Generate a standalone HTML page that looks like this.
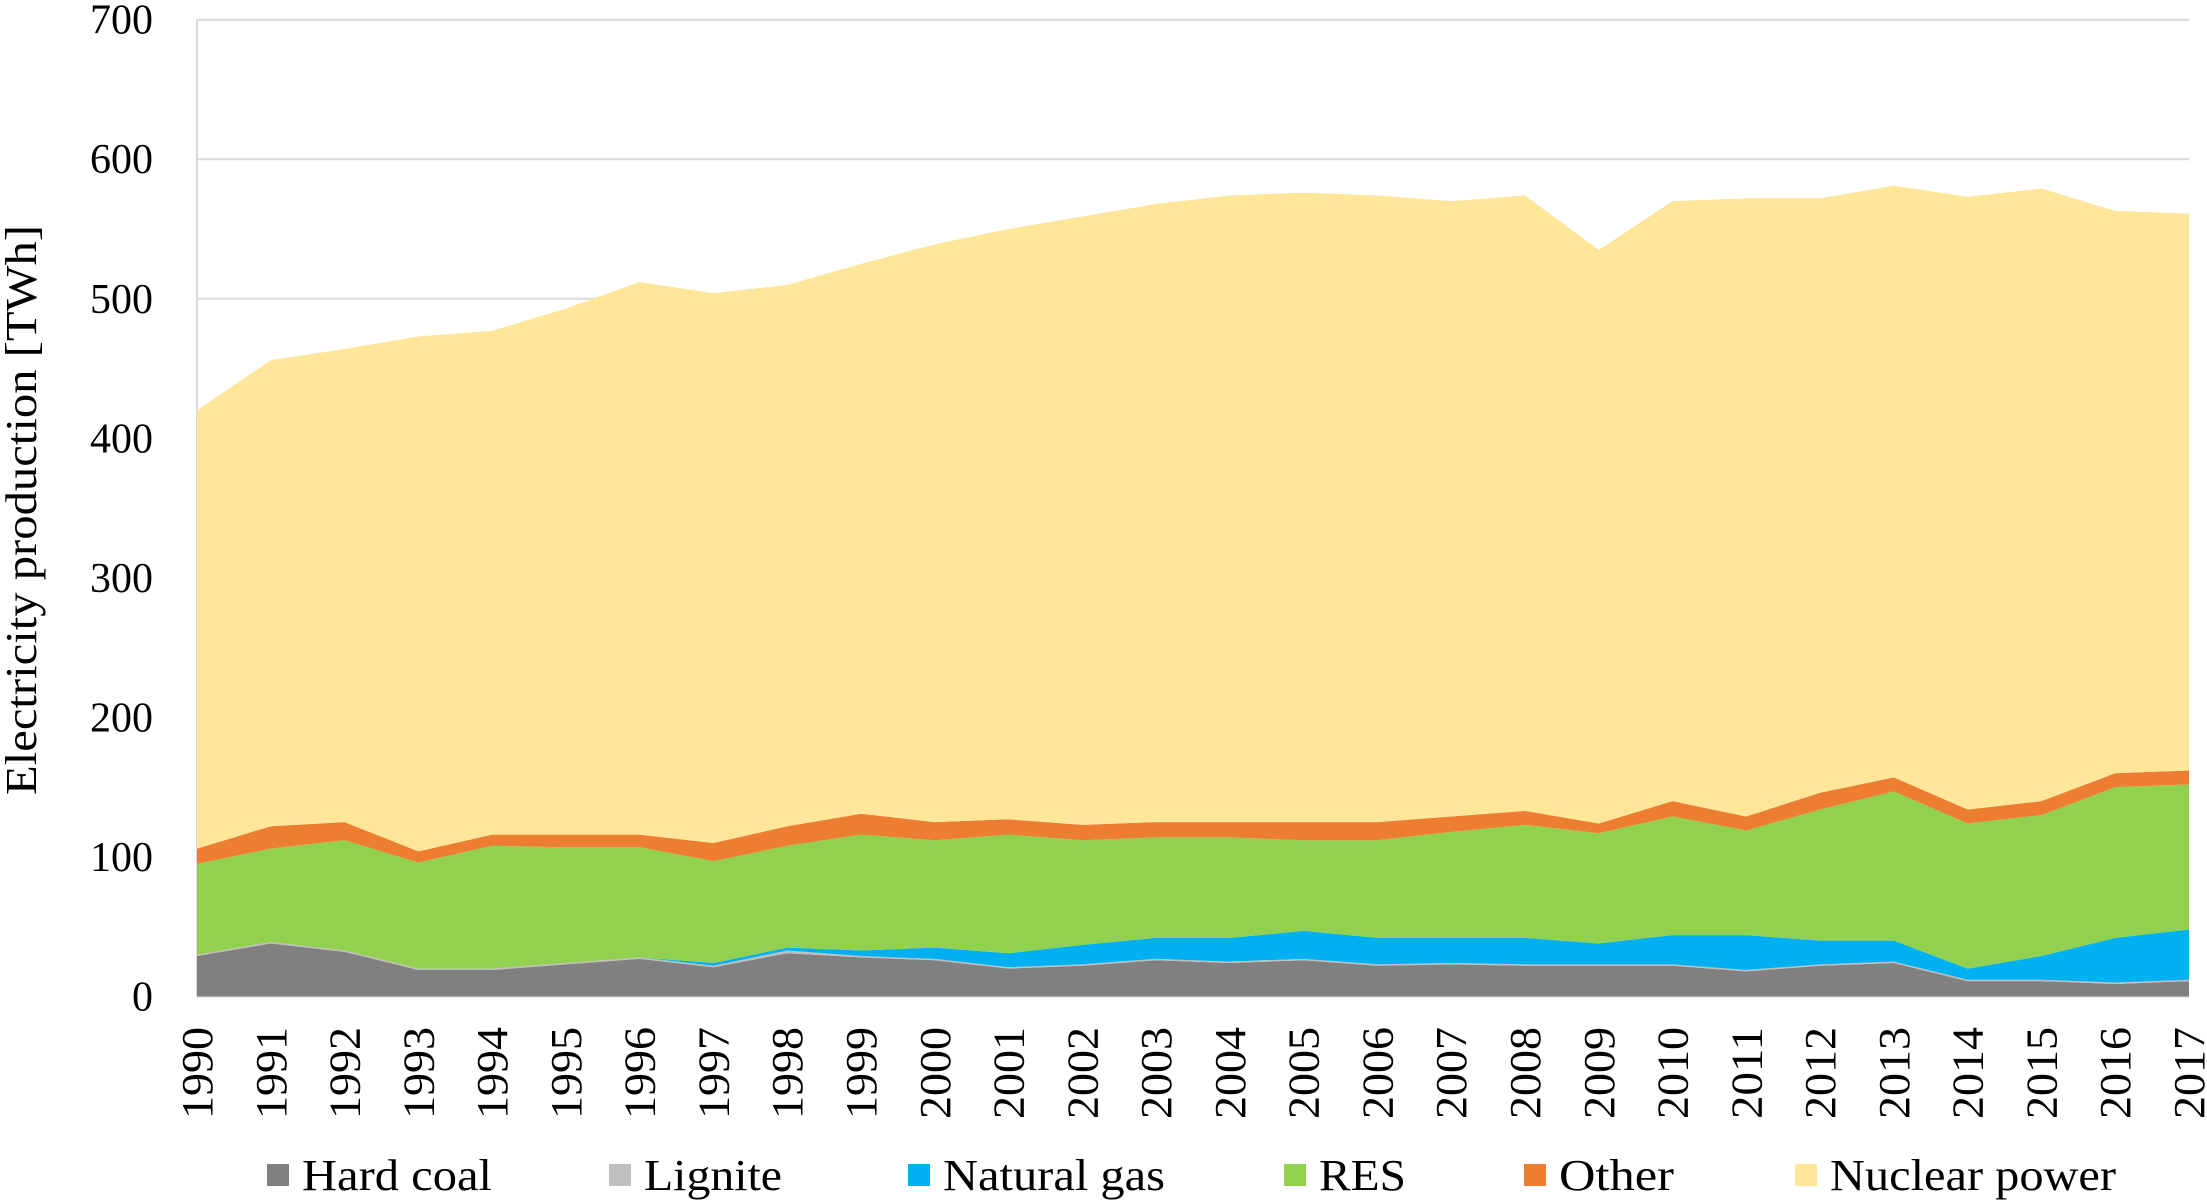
<!DOCTYPE html>
<html><head><meta charset="utf-8"><style>
html,body{margin:0;padding:0;background:#fff;}
svg{display:block;font-family:"Liberation Serif",serif;}
</style></head><body>
<svg id="chart" width="2207" height="1202" viewBox="0 0 2207 1202" xmlns="http://www.w3.org/2000/svg">
<g id="grid"></g>
<g id="areas"></g>
<g id="yticks"></g>
<g id="xticks"></g>
<text transform="translate(36,510) rotate(-90)" text-anchor="middle" font-size="44" textLength="570" lengthAdjust="spacingAndGlyphs" fill="#000">Electricity  production  [TWh]</text>
<g id="legend"></g>
</svg>
<script>
const years = [1990,1991,1992,1993,1994,1995,1996,1997,1998,1999,2000,2001,2002,2003,2004,2005,2006,2007,2008,2009,2010,2011,2012,2013,2014,2015,2016,2017];
const hardCoal = [29,38,32,19,19,23,27,21,31,28,26,20,22,26,24,26,22,23,22,22,22,18,22,24,11,11,9,11];
const lignite = [1,1,1,1,1,1,1,1,2,1,1,1,1,1,1,1,1,1,1,1,1,1,1,1,1,1,1,1];
const naturalGas = [0,0,0,0,0,0,0,2,2,4,8,10,14,15,17,20,19,18,19,15,21,25,17,15,8,17,32,36];
const res = [65,67,79,76,88,83,79,73,73,83,77,85,75,72,72,65,70,76,81,79,85,75,94,107,104,101,108,104];
const other = [11,16,13,8,8,9,9,13,14,15,13,11,11,11,11,13,13,11,10,7,11,10,12,10,10,10,10,10];
const nuclear = [314,334,339,369,361,377,396,394,388,394,414,423,436,443,449,451,449,441,441,411,430,443,426,424,439,439,403,399];
const yTicks = [0,100,200,300,400,500,600,700];
const seriesNames = ["Hard coal","Lignite","Natural gas","RES","Other","Nuclear power"];
const seriesColors = ["#808080","#bfbfbf","#00b0f0","#92d050","#ed7d31","#ffe699"];

const NS="http://www.w3.org/2000/svg";
const L=197,R=2189,T=19.7,B=996.5,YMAX=700;
const xs=i=>L+(R-L)*i/(years.length-1);
const ys=v=>B-(B-T)*v/YMAX;
function mk(t,a,p){const e=document.createElementNS(NS,t);for(const k in a)e.setAttribute(k,a[k]);p.appendChild(e);return e;}

const grid=document.getElementById('grid');
yTicks.forEach(v=>{
  const l=mk('line',{x1:L,x2:R,y1:ys(v),y2:ys(v),stroke:'#d9d9d9','stroke-width':2},grid);
  
  
});
const ax=mk('line',{x1:L,x2:L,y1:T,y2:B,stroke:'#d9d9d9','stroke-width':2},grid);



const series=[hardCoal,lignite,naturalGas,res,other,nuclear];
const areas=document.getElementById('areas');
let base=years.map(()=>0);
series.forEach((s,si)=>{
  const top=base.map((b,i)=>b+s[i]);
  let d='M'+years.map((y,i)=>xs(i)+','+ys(top[i])).join(' L');
  for(let i=years.length-1;i>=0;i--) d+=' L'+xs(i)+','+ys(base[i]);
  d+=' Z';
  const p=mk('path',{d:d,fill:seriesColors[si]},areas);
  
  
  base=top;
});

const yt=document.getElementById('yticks');
yTicks.forEach(v=>{
  const t=mk('text',{x:153,y:ys(v)+14,'text-anchor':'end','font-size':42,fill:'#000'},yt);
  t.textContent=v;
  
  
});
const xt=document.getElementById('xticks');
years.forEach((y,i)=>{
  const x=xs(i)+15;
  const t=mk('text',{transform:'translate('+x+',1027) rotate(-90)','text-anchor':'end','font-size':44,textLength:92,lengthAdjust:'spacingAndGlyphs',fill:'#000'},xt);
  t.textContent=y;
  
  
});
const lg=document.getElementById('legend');
const lx=[267,609,908,1284,1524,1795];
const lw=[190,138,222,87,115,286];
seriesNames.forEach((n,i)=>{
  const g=mk('g',{},lg);
  
  
  mk('rect',{x:lx[i],y:1164,width:22,height:22,fill:seriesColors[i]},g);
  const t=mk('text',{x:lx[i]+35,y:1190,'font-size':44,textLength:lw[i],lengthAdjust:'spacingAndGlyphs',fill:'#000'},g);
  t.textContent=n;
});
</script>
</body></html>
